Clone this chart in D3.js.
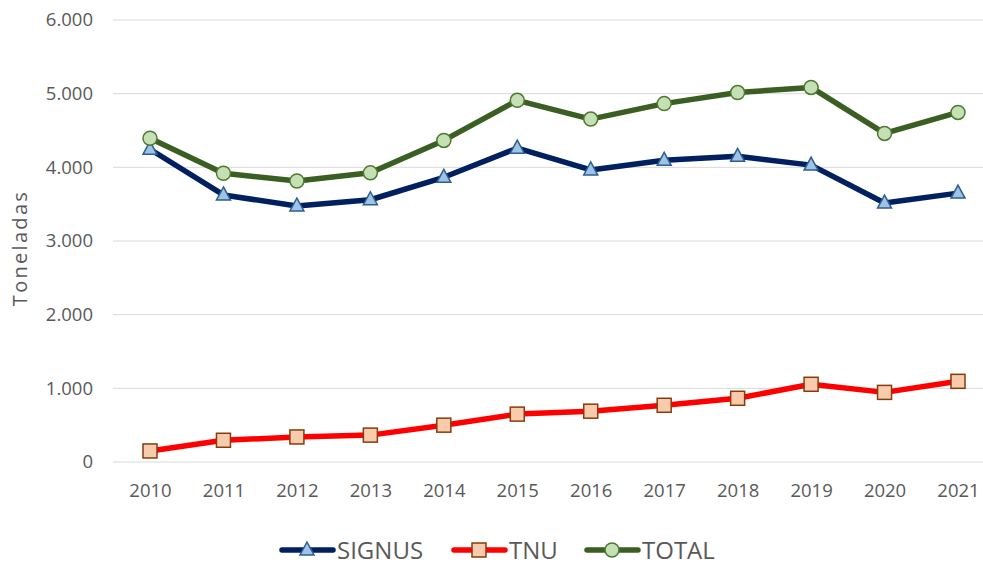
<!DOCTYPE html>
<html lang="es">
<head>
<meta charset="UTF-8">
<title>Toneladas SIGNUS / TNU / TOTAL</title>
<script src="https://d3js.org/d3.v7.min.js"></script>
<style>
  body { margin: 0; background: #fff; font-family: 'Open Sans', 'Liberation Sans', sans-serif; }
  svg { display: block; }
  .tick text { fill: #595959; font-size: 18.5px; font-family: 'Open Sans', sans-serif; }
  .legend text { fill: #595959; font-size: 24px; }
</style>
</head>
<body>
<svg id="chart" width="983" height="564"></svg>
<script>
// --- Data ---
const years = ["2010","2011","2012","2013","2014","2015","2016","2017","2018","2019","2020","2021"];
const signus = [4245, 3625, 3475, 3560, 3865, 4260, 3965, 4095, 4150, 4030, 3515, 3650];
const tnu    = [150, 295, 340, 365, 500, 650, 690, 770, 865, 1055, 945, 1095];
const total  = [4395, 3920, 3815, 3925, 4365, 4910, 4655, 4865, 5015, 5085, 4460, 4745];
const yTicks = [0, 1000, 2000, 3000, 4000, 5000, 6000];

const series = [
  { name: "SIGNUS", values: signus, line: "#002060", fill: "#9DC3E6", stroke: "#2E5F8E", shape: "triangle" },
  { name: "TNU",    values: tnu,    line: "#FF0000", fill: "#F8CBAD", stroke: "#843C0C", shape: "square" },
  { name: "TOTAL",  values: total,  line: "#3B5E22", fill: "#C5E0B4", stroke: "#4E7A30", shape: "circle" }
];

const svg = d3.select("#chart");

const x = d3.scalePoint().domain(years).range([150, 958]);
const y = d3.scaleLinear().domain([0, 6000]).range([462, 20]);

const fmt = v => v === 0 ? "0" : d3.format(",")(v).replace(/,/g, ".");

// gridlines
svg.append("g").selectAll("line").data(yTicks).enter().append("line")
  .attr("x1", 113).attr("x2", 983)
  .attr("y1", d => y(d)).attr("y2", d => y(d))
  .attr("stroke", "#d9d9d9").attr("stroke-width", 1);

// y axis labels
const yAxis = svg.append("g").attr("transform", "translate(99,0)")
  .call(d3.axisLeft(y).tickValues(yTicks).tickFormat(fmt).tickSize(0).tickPadding(6));
yAxis.select(".domain").remove();

// x axis labels
const xAxis = svg.append("g").attr("transform", "translate(0,462)")
  .call(d3.axisBottom(x).tickSize(0).tickPadding(22));
xAxis.select(".domain").remove();

// y title
svg.append("text")
  .attr("transform", "translate(27,248) rotate(-90)")
  .attr("text-anchor", "middle")
  .attr("fill", "#595959").attr("font-size", 20)
  .attr("letter-spacing", 2.3)
  .text("Toneladas");

// marker drawing helper
function marker(g, s, cx, cy) {
  if (s.shape === "circle") {
    g.append("circle").attr("cx", cx).attr("cy", cy).attr("r", 7)
      .attr("fill", s.fill).attr("stroke", s.stroke).attr("stroke-width", 1.5);
  } else if (s.shape === "square") {
    g.append("rect").attr("x", cx - 7).attr("y", cy - 7).attr("width", 14).attr("height", 14)
      .attr("fill", s.fill).attr("stroke", s.stroke).attr("stroke-width", 1.5);
  } else {
    g.append("path").attr("d", `M${cx},${cy - 8}L${cx + 7},${cy + 5}L${cx - 7},${cy + 5}Z`)
      .attr("fill", s.fill).attr("stroke", s.stroke).attr("stroke-width", 1.5);
  }
}

const line = d3.line().x((d, i) => x(years[i])).y(d => y(d));

series.forEach(s => {
  svg.append("path").datum(s.values)
    .attr("d", line)
    .attr("fill", "none").attr("stroke", s.line)
    .attr("stroke-width", 5.5).attr("stroke-linejoin", "round").attr("stroke-linecap", "round");
});
series.forEach(s => {
  const g = svg.append("g");
  s.values.forEach((v, i) => marker(g, s, x(years[i]), y(v)));
});

// legend
const legendX = [282, 454, 587];
const legend = svg.append("g").attr("class", "legend");
series.forEach((s, i) => {
  const lx = legendX[i], ly = 550;
  legend.append("line").attr("x1", lx).attr("x2", lx + 51).attr("y1", ly).attr("y2", ly)
    .attr("stroke", s.line).attr("stroke-width", 5.5).attr("stroke-linecap", "round");
  marker(legend, s, lx + 25, ly);
  legend.append("text").attr("x", lx + 55).attr("y", ly + 8.5).text(s.name);
});
</script>
</body>
</html>
